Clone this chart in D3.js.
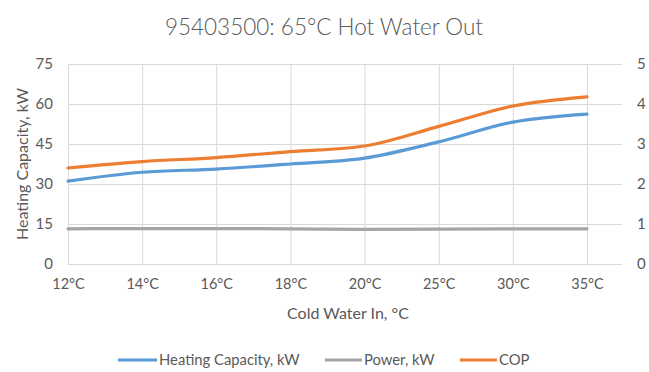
<!DOCTYPE html>
<html>
<head>
<meta charset="utf-8">
<script src="https://cdn.jsdelivr.net/npm/d3@7"></script>
<style>
  html, body { margin: 0; padding: 0; background: #fff; }
  svg { display: block; font-family: Lato, "Open Sans", sans-serif; }
</style>
</head>
<body>
<svg id="chart" width="649" height="372"></svg>
<script>
// Cold water inlet temperatures
const categories = ["12°C", "14°C", "16°C", "18°C", "20°C", "25°C", "30°C", "35°C"];
// Heating capacity, kW (left axis)
const heatingCapacity = [31.1, 34.4, 35.6, 37.5, 39.7, 45.8, 53.2, 56.2];
// Power input, kW (left axis)
const power = [13.2, 13.3, 13.3, 13.2, 13.0, 13.1, 13.2, 13.2];
// Coefficient of performance (right axis)
const cop = [2.4, 2.56, 2.66, 2.81, 2.95, 3.44, 3.95, 4.18];
// Axis ticks
const leftTicks = [0, 15, 30, 45, 60, 75];
const rightTicks = [0, 1, 2, 3, 4, 5];

const svg = d3.select("#chart");
const textColor = "#595959";
const gridColor = "#d9d9d9";
const font = "Lato, sans-serif";

const plotTop = 64, plotBottom = 264, plotLeft = 68, plotRight = 587, gridRight = 622;

const x = d3.scalePoint().domain(categories).range([plotLeft, plotRight]);
const yL = d3.scaleLinear().domain([0, 75]).range([plotBottom, plotTop]);
const yR = d3.scaleLinear().domain([0, 5]).range([plotBottom, plotTop]);

// Horizontal gridlines
svg.append("g")
  .attr("transform", `translate(${plotLeft},0)`)
  .call(d3.axisLeft(yL).tickValues(leftTicks).tickSize(-(gridRight - plotLeft)).tickFormat(""))
  .call(g => g.select(".domain").remove())
  .call(g => g.selectAll("line").attr("stroke", gridColor).attr("stroke-width", 1));

// Vertical gridlines at each category
svg.append("g")
  .attr("transform", `translate(0,${plotBottom})`)
  .call(d3.axisBottom(x).tickSize(-(plotBottom - plotTop)).tickFormat(""))
  .call(g => g.select(".domain").remove())
  .call(g => g.selectAll("line").attr("stroke", gridColor).attr("stroke-width", 1));

// Left axis labels
svg.append("g")
  .attr("transform", `translate(${plotLeft},0)`)
  .call(d3.axisLeft(yL).tickValues(leftTicks).tickSize(0).tickPadding(15))
  .call(g => g.select(".domain").remove())
  .call(g => g.selectAll("text").attr("fill", textColor).attr("font-size", 15).attr("font-family", font));

// Right axis labels
svg.append("g")
  .attr("transform", `translate(${gridRight},0)`)
  .call(d3.axisRight(yR).tickValues(rightTicks).tickFormat(d3.format("d")).tickSize(0).tickPadding(15))
  .call(g => g.select(".domain").remove())
  .call(g => g.selectAll("text").attr("fill", textColor).attr("font-size", 15).attr("font-family", font));

// Category labels
svg.append("g")
  .attr("transform", `translate(0,${plotBottom})`)
  .call(d3.axisBottom(x).tickSize(0).tickPadding(15))
  .call(g => g.select(".domain").remove())
  .call(g => g.selectAll("text").attr("fill", textColor).attr("font-size", 14.5).attr("font-family", font));

// Series lines
const series = [
  { name: "Heating Capacity, kW", values: heatingCapacity, scale: yL, color: "#5b9bd5" },
  { name: "Power, kW", values: power, scale: yL, color: "#a5a5a5" },
  { name: "COP", values: cop, scale: yR, color: "#ed7d31" }
];

series.forEach(s => {
  const line = d3.line()
    .x((d, i) => x(categories[i]))
    .y(d => s.scale(d))
    .curve(d3.curveMonotoneX);
  svg.append("path")
    .datum(s.values)
    .attr("d", line)
    .attr("fill", "none")
    .attr("stroke", s.color)
    .attr("stroke-width", 3.2)
    .attr("stroke-linecap", "round");
});

// Title
svg.append("text")
  .attr("x", 324).attr("y", 35)
  .attr("text-anchor", "middle")
  .attr("fill", textColor)
  .attr("font-size", 22.5)
  .attr("font-weight", 300)
  .text("95403500: 65°C Hot Water Out");

// Axis titles
svg.append("text")
  .attr("x", (plotLeft + gridRight) / 2 + 3).attr("y", 319)
  .attr("text-anchor", "middle")
  .attr("fill", textColor)
  .attr("font-size", 16)
  .text("Cold Water In, °C");

svg.append("text")
  .attr("transform", `translate(28,${(plotTop + plotBottom) / 2}) rotate(-90)`)
  .attr("text-anchor", "middle")
  .attr("fill", textColor)
  .attr("font-size", 16)
  .text("Heating Capacity, kW");

// Legend
const legendY = 360;
const legend = svg.append("g");
const legendItems = [
  { x: 118, w: 39 },
  { x: 325, w: 37 },
  { x: 460, w: 37 }
];
series.forEach((s, i) => {
  const it = legendItems[i];
  legend.append("line")
    .attr("x1", it.x).attr("x2", it.x + it.w)
    .attr("y1", legendY).attr("y2", legendY)
    .attr("stroke", s.color).attr("stroke-width", 3.2);
  legend.append("text")
    .attr("x", it.x + it.w + 2).attr("y", legendY + 5)
    .attr("fill", textColor)
    .attr("font-size", 14.8)
    .attr("font-family", font)
    .text(s.name);
});
</script>
</body>
</html>
